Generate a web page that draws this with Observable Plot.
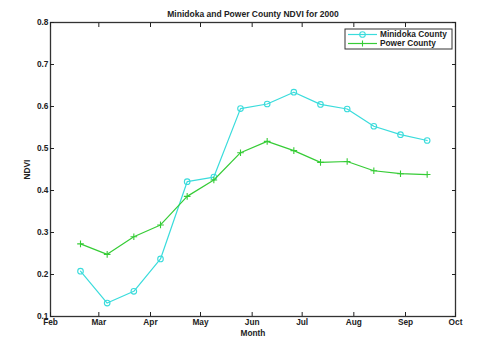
<!DOCTYPE html>
<html><head><meta charset="utf-8">
<script src="https://cdn.jsdelivr.net/npm/d3@7"></script>
<script src="https://cdn.jsdelivr.net/npm/@observablehq/plot@0.6"></script>
<style>body{margin:0;background:#fff} #chart{position:relative;width:477px;height:337px}</style>
</head><body><div id="chart"></div>
<script>
const title = "Minidoka and Power County NDVI for 2000";
const seriesNames = ["Minidoka County", "Power County"];
const dates = ["2000-02-19","2000-03-06","2000-03-22","2000-04-07","2000-04-23","2000-05-09","2000-05-25",
               "2000-06-10","2000-06-26","2000-07-12","2000-07-28","2000-08-13","2000-08-29","2000-09-14"];
const minidoka = [0.208,0.132,0.160,0.237,0.421,0.432,0.595,0.606,0.634,0.605,0.594,0.553,0.533,0.519];
const power    = [0.273,0.248,0.290,0.318,0.386,0.425,0.490,0.517,0.495,0.467,0.469,0.447,0.440,0.438];
const monthTicks = ["2000-02-01","2000-03-01","2000-04-01","2000-05-01","2000-06-01","2000-07-01","2000-08-01","2000-09-01","2000-10-01"];
const yTicks = [0.1,0.2,0.3,0.4,0.5,0.6,0.7,0.8];

const cyan = "#3adcdc", green = "#36cc36";
const font = "'Liberation Sans', Arial, sans-serif";
const parse = d3.utcParse("%Y-%m-%d");
const mData = dates.map((d,i)=>({date: parse(d), v: minidoka[i]}));
const pData = dates.map((d,i)=>({date: parse(d), v: power[i]}));
const xt = monthTicks.map(parse);
const plus = {draw(ctx, size){const r=Math.sqrt(size)/1.6; ctx.moveTo(-r,0);ctx.lineTo(r,0);ctx.moveTo(0,-r);ctx.lineTo(0,r);}};

const chart = Plot.plot({
  width:477, height:337, marginLeft:50, marginRight:22, marginTop:22, marginBottom:21,
  style:{fontFamily:font, fontSize:"8.3px", fontWeight:"bold", background:"#fff", color:"#222"},
  x:{type:"utc", domain:[xt[0], xt[xt.length-1]]},
  y:{domain:[0.1,0.8]},
  marks:[
    Plot.frame({stroke:"#333", strokeWidth:1.3}),
    Plot.axisX({ticks: xt, anchor:"bottom", tickSize:-4, tickPadding:7, tickFormat:d3.utcFormat("%b"), label:"Month", labelAnchor:"center", labelArrow:"none", labelOffset:19.5}),
    Plot.axisX({ticks: xt, anchor:"top", tickSize:-4, tickFormat:()=>"", label:null}),
    Plot.axisY({ticks: yTicks, anchor:"left", tickSize:-4, tickPadding:6, tickFormat:".1f", label:"NDVI", labelAnchor:"center", labelArrow:"none", labelOffset:26}),
    Plot.axisY({ticks: yTicks, anchor:"right", tickSize:-4, tickFormat:()=>"", label:null}),
    Plot.line(mData, {x:"date", y:"v", stroke:cyan, strokeWidth:1.2}),
    Plot.dot(mData, {x:"date", y:"v", stroke:cyan, r:2.8, fill:"none", strokeWidth:1.1}),
    Plot.line(pData, {x:"date", y:"v", stroke:green, strokeWidth:1.2}),
    Plot.dot(pData, {x:"date", y:"v", stroke:green, symbol:plus, r:3, fill:"none", strokeWidth:1.1}),
    Plot.text([title], {frameAnchor:"top", dy:-12, fontSize:8.5, fontWeight:"bold", fill:"#222"})
  ]
});
document.getElementById("chart").appendChild(chart);

// legend
const svg = d3.select(chart);
const lg = svg.append("g").attr("font-family",font).attr("font-size","8.3px").attr("font-weight","bold").attr("text-anchor","start");
lg.append("rect").attr("x",345).attr("y",29).attr("width",107).attr("height",20).attr("fill","#fff").attr("stroke","#333").attr("stroke-width",1);
const items = [{name:seriesNames[0], color:cyan, y:34.5, sym:"circle"},{name:seriesNames[1], color:green, y:43.5, sym:"plus"}];
items.forEach(it=>{
  lg.append("line").attr("x1",348).attr("x2",377).attr("y1",it.y).attr("y2",it.y).attr("stroke",it.color).attr("stroke-width",1.2);
  if(it.sym==="circle") lg.append("circle").attr("cx",362.5).attr("cy",it.y).attr("r",2.8).attr("fill","none").attr("stroke",it.color).attr("stroke-width",1.1);
  else lg.append("path").attr("d",`M${359.5},${it.y}h6M${362.5},${it.y-3}v6`).attr("stroke",it.color).attr("stroke-width",1.1);
  lg.append("text").attr("x",380).attr("y",it.y).attr("dy","0.32em").attr("text-anchor","start").attr("fill","#222").text(it.name);
});
</script>
</body></html>
